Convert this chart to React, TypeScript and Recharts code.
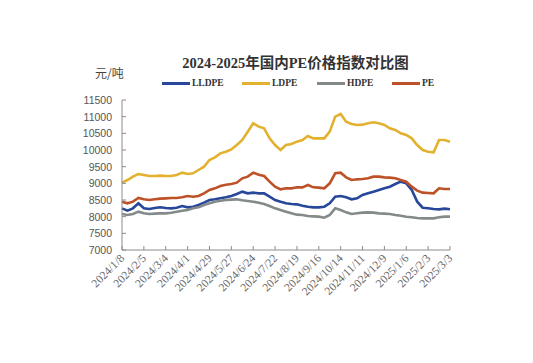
import { LineChart, Line, XAxis, YAxis } from "recharts";

// weekly dates, 2024/1/8 .. 2025/3/3
const dates: string[] = [
  "2024/1/8", "2024/1/15", "2024/1/22", "2024/1/29", "2024/2/5", "2024/2/12", "2024/2/19", "2024/2/26",
  "2024/3/4", "2024/3/11", "2024/3/18", "2024/3/25", "2024/4/1", "2024/4/8", "2024/4/15", "2024/4/22",
  "2024/4/29", "2024/5/6", "2024/5/13", "2024/5/20", "2024/5/27", "2024/6/3", "2024/6/10", "2024/6/17",
  "2024/6/24", "2024/7/1", "2024/7/8", "2024/7/15", "2024/7/22", "2024/7/29", "2024/8/5", "2024/8/12",
  "2024/8/19", "2024/8/26", "2024/9/2", "2024/9/9", "2024/9/16", "2024/9/23", "2024/9/30", "2024/10/7",
  "2024/10/14", "2024/10/21", "2024/10/28", "2024/11/4", "2024/11/11", "2024/11/18", "2024/11/25", "2024/12/2",
  "2024/12/9", "2024/12/16", "2024/12/23", "2024/12/30", "2025/1/6", "2025/1/13", "2025/1/20", "2025/1/27",
  "2025/2/3", "2025/2/10", "2025/2/17", "2025/2/24", "2025/3/3",
];

const lldpe: number[] = [
  8250, 8180, 8250, 8400, 8250, 8230, 8260, 8280, 8260, 8250, 8270, 8320, 8280, 8300, 8350, 8420,
  8500, 8520, 8550, 8580, 8620, 8680, 8750, 8700, 8720, 8700, 8700, 8600, 8500, 8450, 8400, 8380,
  8370, 8330, 8300, 8280, 8280, 8300, 8400, 8600, 8620, 8580, 8520, 8550, 8650, 8700, 8750, 8800,
  8850, 8900, 8980, 9050, 9000, 8800, 8450, 8270, 8250, 8230, 8220, 8240, 8220,
];

const ldpe: number[] = [
  9020, 9100, 9200, 9280, 9250, 9220, 9220, 9230, 9220, 9220, 9250, 9320, 9280, 9300, 9400, 9500,
  9700, 9780, 9900, 9950, 10020, 10150, 10300, 10550, 10800, 10700, 10650, 10350, 10150, 10000, 10150, 10180,
  10250, 10300, 10420, 10350, 10350, 10350, 10550, 11000, 11080, 10850, 10780, 10750, 10760, 10800, 10830, 10800,
  10750, 10650, 10600, 10500, 10450, 10350, 10150, 10000, 9950, 9930, 10300, 10300, 10250,
];

const hdpe: number[] = [
  8080, 8050, 8080, 8150, 8100, 8080, 8090, 8100, 8100, 8120, 8150, 8180, 8200, 8250, 8280, 8350,
  8400, 8450, 8480, 8500, 8510, 8520, 8490, 8470, 8450, 8420, 8380, 8320, 8250, 8200, 8150, 8100,
  8060, 8050, 8020, 8010, 8000, 7970, 8050, 8250, 8200, 8130, 8080, 8100, 8120, 8130, 8120, 8100,
  8090, 8080, 8050, 8030, 8000, 7980, 7960, 7950, 7950, 7950, 7980, 8000, 8000,
];

const pe: number[] = [
  8450, 8400, 8450, 8560, 8520, 8500, 8520, 8540, 8550, 8560, 8560, 8580, 8620, 8600, 8620, 8700,
  8800, 8850, 8920, 8960, 8980, 9020, 9150, 9200, 9320, 9260, 9220, 9050, 8900, 8820, 8850, 8850,
  8880, 8880, 8950, 8880, 8870, 8850, 9000, 9300, 9320, 9180, 9100, 9120, 9130, 9150, 9200, 9200,
  9180, 9170, 9150, 9100, 9050, 8900, 8780, 8720, 8710, 8700, 8850, 8830, 8830,
];

const yTicks: number[] = [7000, 7500, 8000, 8500, 9000, 9500, 10000, 10500, 11000, 11500];

const seriesNames = ["LLDPE", "LDPE", "HDPE", "PE"];
const seriesColors = ["#27479a", "#e2b12f", "#848a8a", "#bd5228"];

const data = dates.map((d, i) => ({
  date: d,
  LLDPE: lldpe[i],
  LDPE: ldpe[i],
  HDPE: hdpe[i],
  PE: pe[i],
}));

const axisColor = "#8c8c8c";

function YTick(props: any) {
  const { x, y, payload } = props;
  return (
    <g>
      <line x1={x} y1={y} x2={x + 4} y2={y} stroke={axisColor} />
      <text x={x - 10} y={y} dy={4} textAnchor="end" fontSize={10.5} fill="#555"
        fontFamily="'Liberation Sans', Arial, sans-serif">
        {payload.value}
      </text>
    </g>
  );
}

function XTick(props: any) {
  const { x, y, payload } = props;
  const tx = x + 3;
  const ty = y + 9;
  return (
    <g>
      <line x1={x} y1={y} x2={x} y2={y - 4} stroke={axisColor} />
      <text x={tx} y={ty} textAnchor="end" fontSize={11.5} fill="#666"
        fontFamily="'Liberation Serif', 'Times New Roman', serif"
        transform={`rotate(-45, ${tx}, ${ty})`}>
        {payload.value}
      </text>
    </g>
  );
}

export default function App() {
  return (
    <div style={{ position: "absolute", left: 0, top: 0, width: 533, height: 363, background: "#fff" }}>
      <div style={{
        position: "absolute", left: 0, width: 533, top: 51, textAlign: "center", paddingLeft: 58,
        boxSizing: "border-box", fontSize: 14.5, fontWeight: 700, color: "#333",
        fontFamily: "'Liberation Serif', 'Noto Sans CJK SC', serif",
      }}>
        2024-2025年国内PE价格指数对比图
      </div>
      <div style={{
        position: "absolute", left: 95, top: 64, fontSize: 12, color: "#444",
        fontFamily: "'Noto Sans CJK SC', sans-serif",
      }}>
        元/吨
      </div>
      {seriesNames.map((n, i) => (
        <div key={n} style={{
          position: "absolute", left: [162, 242, 317, 392][i], top: 77, height: 12,
          display: "flex", alignItems: "center",
        }}>
          <div style={{ width: 28, height: 3, background: seriesColors[i], marginRight: 2 }} />
          <span style={{
            fontSize: 9.5, fontWeight: 700, color: "#333",
            fontFamily: "'Liberation Serif', serif",
          }}>{n}</span>
        </div>
      ))}
      <LineChart width={533} height={363} data={data}
        margin={{ top: 100, right: 83, bottom: 0, left: 0 }}>
        <XAxis dataKey="date" interval={3} height={113} stroke={axisColor}
          tickLine={false} tickSize={0} tickMargin={0} tick={<XTick />} />
        <YAxis domain={[7000, 11500]} ticks={yTicks} interval={0} width={122} stroke={axisColor}
          tickLine={false} tickSize={0} tickMargin={0} tick={<YTick />} />
        {seriesNames.map((n, i) => (
          <Line key={n} dataKey={n} stroke={seriesColors[i]} strokeWidth={2.6} dot={false}
            isAnimationActive={false} />
        ))}
      </LineChart>
    </div>
  );
}
